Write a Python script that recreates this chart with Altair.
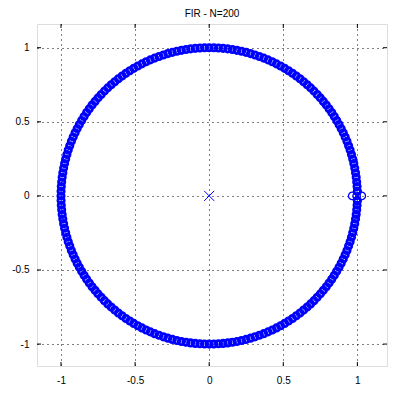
import altair as alt
import pandas as pd
import numpy as np

title_text = "FIR - N=200"

# angles (degrees) of the zeros in the upper half plane
upper_angles_deg = [1.8, 3.6, 5.4, 7.2, 9, 10.8, 12.6, 14.4, 16.2, 18, 19.8, 21.6, 23.4, 25.2, 27,
                    28.8, 30.6, 32.4, 34.2, 36, 37.8, 39.6, 41.4, 43.2, 45, 46.8, 48.6, 50.4, 52.2,
                    54, 55.8, 57.6, 59.4, 61.2, 63, 64.8, 66.6, 68.4, 70.2, 72, 73.8, 75.6, 77.4,
                    79.2, 81, 82.8, 84.6, 86.4, 88.2, 90, 91.8, 93.6, 95.4, 97.2, 99, 100.8, 102.6,
                    104.4, 106.2, 108, 109.8, 111.6, 113.4, 115.2, 117, 118.8, 120.6, 122.4, 124.2,
                    126, 127.8, 129.6, 131.4, 133.2, 135, 136.8, 138.6, 140.4, 142.2, 144, 145.8,
                    147.6, 149.4, 151.2, 153, 154.8, 156.6, 158.4, 160.2, 162, 163.8, 165.6, 167.4,
                    169.2, 171, 172.8, 174.6, 176.4, 178.2]
real_zero_angles_deg = [180]
zero_radius = 1.0

# cluster of zeros around z = 1
cluster_x = [0.965, 0.995, 1.03, 1.0, 1.0]
cluster_y = [0.0, 0.0, 0.0, 0.03, -0.035]

# pole (multiple) at the origin
pole_x = [0.0]
pole_y = [0.0]

tick_values = [-1, -0.5, 0, 0.5, 1]
x_domain = [-1.162, 1.2]
y_domain = [-1.148, 1.16]

# conjugate pairs (real-coefficient polynomial)
angles = upper_angles_deg + [-a for a in upper_angles_deg] + real_zero_angles_deg
rad = np.deg2rad(np.array(angles, dtype=float))
ring_df = pd.DataFrame({"x": zero_radius * np.cos(rad), "y": zero_radius * np.sin(rad)})
cluster_df = pd.DataFrame({"x": cluster_x, "y": cluster_y})
pole_df = pd.DataFrame({"x": pole_x, "y": pole_y})
ticks_df = pd.DataFrame({"x": tick_values, "y": tick_values})

W, H = 350, 342
FONT = "Liberation Sans"

xs = alt.Scale(domain=x_domain, nice=False, zero=False)
ys = alt.Scale(domain=y_domain, nice=False, zero=False)
x_axis = alt.Axis(values=tick_values, title=None, labelExpr="toString(datum.value)",
                  grid=True, gridDash=[1, 4], gridColor="black", gridOpacity=1, gridWidth=1,
                  ticks=False, domain=False, labelPadding=9, labelFontSize=10, labelFont=FONT,
                  labelColor="black")
y_axis = alt.Axis(values=tick_values, title=None, labelExpr="toString(datum.value)",
                  grid=True, gridDash=[1, 4], gridColor="black", gridOpacity=1, gridWidth=1,
                  ticks=False, domain=False, labelPadding=8, labelFontSize=10, labelFont=FONT,
                  labelColor="black")

X = alt.X("x:Q", scale=xs, axis=x_axis)
Y = alt.Y("y:Q", scale=ys, axis=y_axis)

ring = alt.Chart(ring_df).mark_point(shape="circle", filled=False, size=40,
                                     strokeWidth=2.8, color="#0000ff", opacity=1).encode(x=X, y=Y)
cluster = alt.Chart(cluster_df).mark_point(shape="circle", filled=False, size=55,
                                           strokeWidth=1.3, color="#0000ff", opacity=1).encode(x=X, y=Y)
pole = alt.Chart(pole_df).mark_point(shape="M-1,-1L1,1M-1,1L1,-1", filled=False, size=100,
                                     strokeWidth=1, color="#0000ff", opacity=1).encode(x=X, y=Y)

tk = alt.Chart(ticks_df)
t_bottom = tk.mark_rule(color="black", strokeWidth=1).encode(x=X, y=alt.value(H), y2=alt.value(H - 4))
t_top = tk.mark_rule(color="black", strokeWidth=1).encode(x=X, y=alt.value(0), y2=alt.value(4))
t_left = tk.mark_rule(color="black", strokeWidth=1).encode(y=Y, x=alt.value(0), x2=alt.value(4))
t_right = tk.mark_rule(color="black", strokeWidth=1).encode(y=Y, x=alt.value(W), x2=alt.value(W - 4))

chart = alt.layer(ring, cluster, pole, t_bottom, t_top, t_left, t_right).properties(
    width=W, height=H,
    title=alt.TitleParams(title_text, fontSize=10, fontWeight="normal", font=FONT,
                          color="black", offset=5, anchor="middle"),
    autosize=alt.AutoSizeParams(type="none"),
    padding={"left": 29, "top": 16, "right": 13, "bottom": 21},
).configure_view(stroke="black", strokeWidth=2).configure(background="white")

chart.save("out.html", embed_options={"renderer": "svg", "actions": False})
